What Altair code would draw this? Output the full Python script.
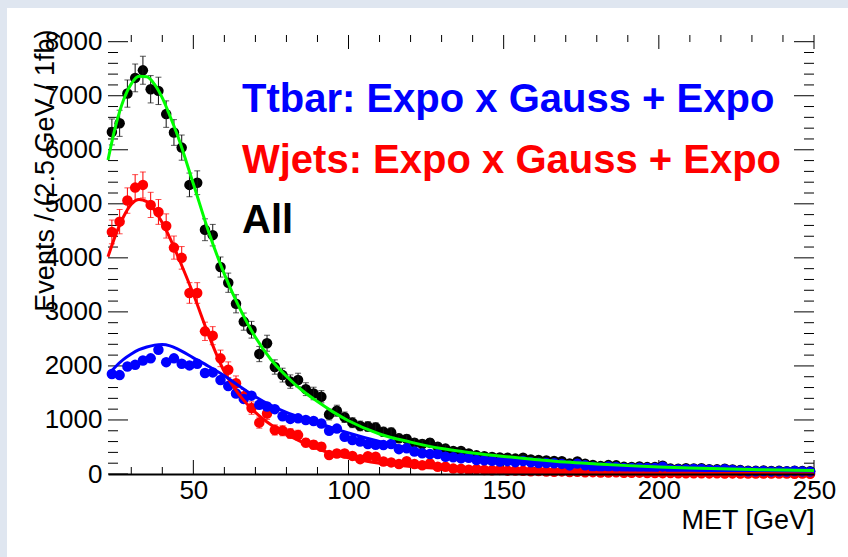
import altair as alt
import pandas as pd

# ---------------- data ----------------
BIN_LO = 22.5
BIN_W = 2.5

all_counts = [6330, 6490, 7040, 7330, 7470, 7120, 7090, 6660, 6320, 6040,
              5350, 5390, 4520, 4420, 3830, 3540, 3150, 2820, 2670, 2220,
              2420, 1980, 1830, 1710, 1740, 1570, 1490, 1430, 1100, 1170,
              1050, 950, 890, 880, 860, 780, 770, 660, 650, 580,
              555, 580, 505, 470, 425, 425,
              380, 345, 330, 315, 305, 300, 285, 300, 270, 258,
              250, 240, 235, 195, 232, 192, 168, 150, 165, 160,
              132, 130, 140, 128, 130, 152, 100, 98, 105, 104,
              106, 88, 86, 98, 85, 72, 62, 58, 66, 55,
              58, 52, 60, 55, 50]
all_err = [240, 242, 252, 257, 259, 253, 253, 245, 238, 233,
           219, 220, 202, 199, 186, 178, 168, 159, 155, 141,
           148, 133, 128, 124, 125, 119, 116, 113, 100, 103,
           97, 92, 89, 89, 88, 84, 83, 77, 76, 72,
           71, 72, 67, 65, 62, 62,
           58, 56, 55, 53, 52, 52, 51, 52, 49, 48,
           47, 46, 46, 42, 46, 42, 39, 37, 39, 38,
           34, 34, 35, 34, 34, 37, 30, 30, 31, 31,
           31, 28, 28, 30, 28, 25, 24, 23, 24, 22,
           23, 22, 23, 22, 21]

wjets_counts = [4480, 4670, 5060, 5300, 5350, 4980, 4850, 4590, 4190, 4000,
                3350, 3350, 2640, 2560, 2140, 1930, 1680, 1440, 1220, 950,
                1120, 815, 800, 750, 720, 580, 540, 505, 350, 380,
                380, 335, 275, 330, 320, 230, 215, 185, 235, 185,
                160, 195, 135, 135, 100, 95,
                80, 88, 75, 70, 76, 62, 66, 58, 52, 56,
                46, 42, 48, 36, 40, 32, 34, 28, 26, 30,
                22, 21, 25, 18, 20, 16, 17, 14, 15, 12,
                13, 11, 12, 10, 11, 9, 10, 8, 9, 7,
                8, 7, 6, 7, 6]
wjets_err = [220, 225, 235, 240, 241, 233, 230, 224, 214, 209,
             191, 191, 170, 167, 153, 145, 135, 125, 115, 102,
             110, 94, 93, 90, 89, 79, 77, 74, 62, 64,
             64, 60, 55, 60, 59, 50, 48, 45, 51, 45,
             42, 46, 38, 38, 33, 32,
             30, 31, 29, 28, 29, 26, 27, 25, 24, 25,
             22, 21, 23, 20, 21, 19, 19, 17, 17, 18,
             15, 15, 16, 14, 15, 13, 14, 12, 13, 11,
             12, 11, 11, 10, 11, 10, 10, 9, 10, 9,
             9, 9, 8, 9, 8]

ttbar_counts = [1850, 1830, 1990, 2020, 2100, 2140, 2300, 2070, 2140, 2040,
                2010, 2040, 1870, 1880, 1740, 1630, 1490, 1390, 1450, 1280,
                1250, 1200, 1070, 1020, 1030, 1000, 980, 935, 800, 840,
                690, 630, 600, 555, 540, 535, 555, 460, 475, 415,
                385, 370, 370, 320, 310, 290,
                300, 257, 255, 245, 229, 238, 219, 242, 218, 202,
                204, 198, 187, 159, 192, 160, 134, 122, 139, 130,
                110, 109, 115, 110, 110, 136, 83, 84, 90, 92,
                93, 77, 74, 88, 74, 63, 52, 50, 57, 48,
                50, 45, 54, 48, 44]

# fitted curves
fit_x = [22.5, 25, 27.5, 30, 32.5, 35, 37.5, 40, 42.5, 45, 50, 55, 60, 65, 70,
         75, 80, 85, 90, 95, 100, 110, 120, 130, 140, 150, 160, 170, 180,
         190, 200, 210, 220, 230, 240, 250]
fit_all = [5810, 6450, 6920, 7220, 7360, 7350, 7210, 6960, 6620, 6250, 5370,
           4470, 3700, 3060, 2530, 2120, 1810, 1550, 1340, 1150, 985, 740,
           590, 470, 390, 325, 270, 222, 187, 155, 130, 110, 95, 82, 72, 64]
fit_wjets = [4020, 4430, 4760, 4990, 5080, 5040, 4880, 4650, 4360, 4030, 3330,
             2560, 1890, 1450, 1140, 910, 730, 590, 470, 370, 300, 200,
             140, 100, 72, 52, 38, 29, 22, 17, 14, 12, 10, 9, 7, 6]
fit_ttbar = [1830, 1990, 2120, 2220, 2300, 2350, 2385, 2395, 2370, 2310, 2150,
             1990, 1820, 1620, 1430, 1270, 1140, 1040, 950, 850, 760, 600,
             470, 370, 300, 245, 200, 165, 140, 118, 100, 88, 77, 68, 61, 55]

legend_labels = ["Ttbar: Expo x Gauss + Expo", "Wjets: Expo x Gauss + Expo", "All"]
x_labels = [50, 100, 150, 200, 250]
y_labels = [0, 1000, 2000, 3000, 4000, 5000, 6000, 7000, 8000]
x_minor = [30, 40, 60, 70, 80, 90, 110, 120, 130, 140, 160, 170, 180, 190,
           210, 220, 230, 240]
y_minor = [v for v in range(200, 8001, 200) if v % 1000 != 0]

# ---------------- tables ----------------
met = [BIN_LO + BIN_W * (i + 0.5) for i in range(len(all_counts))]


def series_df(vals, errs):
    d = pd.DataFrame({"met": met, "v": vals})
    if errs is not None:
        d["lo"] = [a - b for a, b in zip(vals, errs)]
        d["hi"] = [a + b for a, b in zip(vals, errs)]
    return d


df_all = series_df(all_counts, all_err)
df_wj = series_df(wjets_counts, wjets_err)
df_tt = series_df(ttbar_counts, None)
df_fit = pd.DataFrame({"met": fit_x, "all": fit_all, "wj": fit_wjets, "tt": fit_ttbar})

W, H = 706, 439
FONT = "Liberation Sans"
xs = alt.Scale(domain=[22.5, 250], nice=False, zero=False)
ys = alt.Scale(domain=[0, 8124], nice=False, zero=False)

BLUE, RED, GREEN, BLACK = "#0000ff", "#ff0000", "#00ff00", "#000000"

x_axis = alt.Axis(values=x_labels, format="d", ticks=False, grid=False, domain=True,
                  domainColor="black", domainWidth=2, zindex=1,
                  labelFont=FONT, labelFontSize=26, labelColor="black",
                  labelPadding=3, labelFlush=False, labelOverlap=False,
                  title="MET [GeV]", titleFont=FONT, titleFontSize=27,
                  titleFontWeight="normal", titleColor="black",
                  titleAnchor="end", titleAlign="right", titleBaseline="alphabetic",
                  titleX=W, titleY=54)
y_axis = alt.Axis(values=y_labels, format="d", ticks=False, grid=False, domain=False, zindex=1,
                  labelFont=FONT, labelFontSize=26, labelColor="black",
                  labelPadding=6, labelFlush=False, labelOverlap=False,
                  title="Events / (2.5 GeV / 1fb)", titleFont=FONT, titleFontSize=27,
                  titleFontWeight="normal", titleColor="black",
                  titleAngle=270, titleAlign="right", titleBaseline="middle",
                  titleX=-63, titleY=-6)


def X(field):
    return alt.X(field, scale=xs, axis=x_axis)


def Y(field):
    return alt.Y(field, scale=ys, axis=y_axis)


one = pd.DataFrame({"k": [0]})

# white canvas (inside the light-blue frame)
canvas = alt.Chart(one).mark_rect(color="white", strokeWidth=0).encode(
    x=alt.value(-101), x2=alt.value(740), y=alt.value(-27), y2=alt.value(522))


def points(df, color):
    return alt.Chart(df).mark_circle(size=110, opacity=1, color=color).encode(
        x=X("met:Q"), y=Y("v:Q"))


def errbars(df, color):
    bar = alt.Chart(df).mark_rule(color=color, strokeWidth=1).encode(
        x=X("met:Q"), y=Y("lo:Q"), y2="hi:Q")
    cap_lo = alt.Chart(df).mark_tick(color=color, orient="horizontal", size=6, thickness=1).encode(
        x=X("met:Q"), y=Y("lo:Q"))
    cap_hi = alt.Chart(df).mark_tick(color=color, orient="horizontal", size=6, thickness=1).encode(
        x=X("met:Q"), y=Y("hi:Q"))
    return [bar, cap_lo, cap_hi]


def fit(col, color):
    return alt.Chart(df_fit).mark_line(color=color, strokeWidth=3, interpolate="monotone").encode(
        x=X("met:Q"), y=Y(f"{col}:Q"))


def yticks(vals, x0, x1):
    return alt.Chart(pd.DataFrame({"t": vals})).mark_rule(color="black", strokeWidth=1).encode(
        y=Y("t:Q"), x=alt.value(x0), x2=alt.value(x1))


def xticks(vals, y0, y1):
    return alt.Chart(pd.DataFrame({"t": vals})).mark_rule(color="black", strokeWidth=1).encode(
        x=X("t:Q"), y=alt.value(y0), y2=alt.value(y1))


tick_layers = [
    yticks(y_labels, 0, 20), yticks(y_minor, 0, 10),
    yticks(y_labels, W - 20, W), yticks(y_minor, W - 10, W),
    xticks(x_labels, H, H - 14), xticks(x_minor, H, H - 7),
    xticks(x_labels, 0, 14), xticks(x_minor, 0, 7),
]


def label(text, color, ypx):
    return alt.Chart(pd.DataFrame({"t": [text]})).mark_text(
        font=FONT, fontSize=40, fontWeight="bold", color=color,
        align="left", baseline="alphabetic").encode(
        text="t:N", x=alt.value(134), y=alt.value(ypx))


layers = [canvas] + tick_layers
layers += [points(df_all, BLACK)] + errbars(df_all, "#111111")
layers += [points(df_wj, RED)] + errbars(df_wj, RED)
layers += [points(df_tt, BLUE)]
layers += [fit("wj", RED), fit("tt", BLUE), fit("all", GREEN)]
layers += [label(legend_labels[0], BLUE, 77),
           label(legend_labels[1], RED, 138),
           label(legend_labels[2], BLACK, 198)]

chart = alt.layer(*layers).properties(
    width=W, height=H,
    autosize=alt.AutoSizeParams(type="none"),
    padding={"left": 108, "top": 35, "right": 34, "bottom": 83},
    background="#dfe6f0",
).configure_view(stroke="black", strokeWidth=1.3)

chart.save("out.html", embed_options={"renderer": "svg", "actions": False})
